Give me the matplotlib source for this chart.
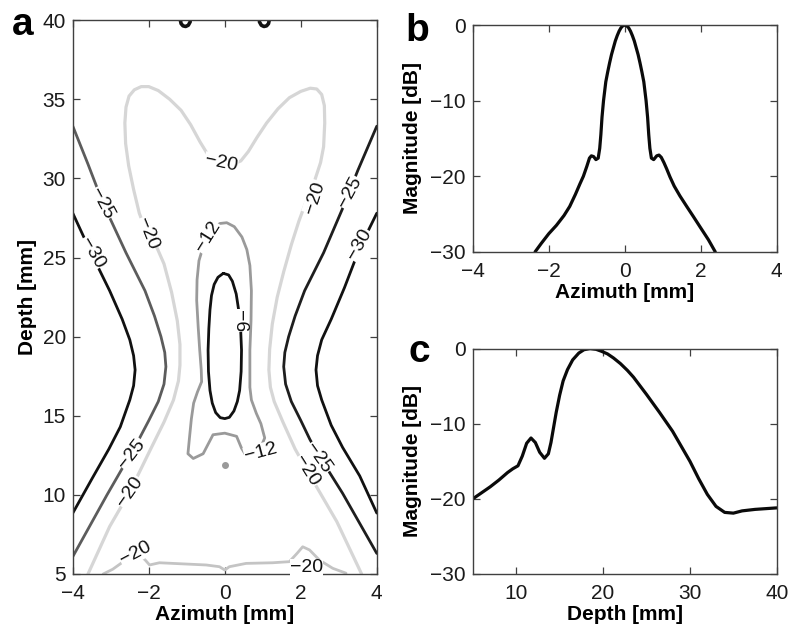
import matplotlib
matplotlib.use('Agg')
import matplotlib.pyplot as plt

plt.rcParams['font.family'] = ['Liberation Sans', 'DejaVu Sans']

# ---------------- Panel a: contour lines (azimuth [mm], depth [mm]) ----------------
c30_left_x = [-4.0, -3.5, -3.03, -2.7, -2.5, -2.4, -2.36, -2.4, -2.5, -2.75, -3.05, -3.5, -4.0]
c30_left_y = [27.8, 25.2, 22.9, 21.1, 19.8, 18.8, 17.9, 16.9, 16.0, 14.3, 12.9, 11.0, 8.85]
c30_right_x = [4.0, 3.55, 3.15, 2.8, 2.55, 2.44, 2.4, 2.44, 2.55, 2.8, 3.1, 3.55, 4.0]
c30_right_y = [27.8, 25.6, 23.1, 21.1, 19.8, 18.8, 17.9, 16.9, 16.0, 14.4, 13.0, 11.2, 8.85]

c25_left_x = [-4.0, -3.6, -3.2, -2.6, -2.1, -1.85, -1.68, -1.58, -1.55, -1.6, -1.75, -2.0, -2.24, -2.5, -3.1, -4.0]
c25_left_y = [33.3, 30.9, 28.4, 25.3, 22.9, 21.3, 20.0, 19.0, 18.1, 17.0, 15.9, 14.7, 13.6, 12.5, 10.0, 6.1]
c25_right_x = [4.0, 3.5, 3.1, 2.6, 2.1, 1.85, 1.68, 1.58, 1.55, 1.6, 1.75, 2.0, 2.24, 2.5, 3.1, 4.0]
c25_right_y = [33.3, 30.5, 28.1, 25.3, 22.9, 21.3, 20.0, 19.0, 18.1, 17.0, 15.9, 14.7, 13.5, 12.4, 10.1, 6.3]

c20_x = [-3.6, -3.03, -2.5, -1.95, -1.6, -1.35, -1.22, -1.18, -1.18, -1.25, -1.4, -1.6, -1.8,
         -2.05, -2.25, -2.4, -2.53, -2.61, -2.63, -2.6, -2.52, -2.38, -2.2, -2.0, -1.75, -1.45,
         -1.15, -0.9, -0.65, -0.42, -0.2, 0.0, 0.2, 0.42, 0.62, 0.85, 1.1, 1.4, 1.7, 2.0,
         2.25, 2.42, 2.55, 2.62, 2.63, 2.6, 2.52, 2.37, 2.15, 1.95, 1.75, 1.55, 1.38, 1.25,
         1.18, 1.16, 1.2, 1.3, 1.53, 1.85, 2.2, 2.95, 3.6]
c20_y = [5.0, 8.0, 10.2, 12.9, 14.6, 16.0, 17.2, 18.2, 19.5, 21.0, 22.8, 24.6, 25.7,
         26.5, 27.8, 29.3, 30.8, 32.2, 33.5, 34.5, 35.2, 35.6, 35.8, 35.8, 35.55, 35.0,
         34.3, 33.4, 32.3, 31.4, 30.95, 30.85, 30.9, 31.1, 31.7, 32.6, 33.5, 34.4, 35.1, 35.5,
         35.7, 35.65, 35.3, 34.6, 33.5, 32.0, 31.0, 29.9, 28.6, 27.3, 25.8, 24.1, 22.5, 20.8,
         19.2, 17.9, 16.8, 15.9, 14.6, 12.9, 11.4, 8.3, 5.0]

c20_bottom_x = [-3.2, -2.95, -2.6, -2.3, -2.1, -1.98, -1.72, -1.37, -0.49, -0.14, 0.0, 0.12,
                0.56, 1.26, 1.7, 1.9, 2.05, 2.23, 2.49, 2.84, 3.19]
c20_bottom_y = [5.0, 5.3, 5.9, 6.3, 5.9, 5.57, 5.71, 5.67, 5.57, 5.46, 5.25, 5.46,
                5.67, 5.71, 5.78, 6.3, 6.72, 6.52, 5.88, 5.36, 5.05]

c12_x = [-0.3, -0.44, -0.58, -0.68, -0.73, -0.74, -0.7, -0.66, -0.62, -0.61, -0.72, -0.82,
         -0.88, -0.93, -0.97, -0.83, -0.57, -0.31, 0.0, 0.31, 0.44, 0.53, 0.88, 1.05, 0.95,
         0.83, 0.7, 0.66, 0.66, 0.69, 0.70, 0.66, 0.58, 0.45, 0.25, 0.05, -0.13, -0.3]
c12_y = [26.85, 26.3, 25.6, 24.8, 23.6, 22.3, 20.6, 19.15, 17.9, 17.15, 16.5, 15.8,
         14.8, 13.6, 12.6, 12.3, 12.6, 13.8, 13.9, 13.7, 12.95, 12.6, 12.6, 13.6, 14.5,
         15.15, 16.0, 16.8, 19.15, 21.0, 22.9, 24.5, 25.5, 26.3, 26.95, 27.2, 27.15, 26.85]

c6_x = [-0.04, -0.18, -0.28, -0.35, -0.39, -0.42, -0.44, -0.43, -0.39, -0.33, -0.24, -0.12, 0.0,
        0.12, 0.24, 0.33, 0.39, 0.43, 0.44, 0.42, 0.37, 0.3, 0.2, 0.1, -0.04]
c6_y = [24.0, 23.75, 23.3, 22.6, 21.7, 20.5, 19.15, 17.8, 16.6, 15.8, 15.2, 14.88, 14.82,
        14.9, 15.3, 15.9, 16.6, 17.8, 19.15, 20.3, 21.6, 22.7, 23.5, 23.9, 24.0]

c_top_left_x = [-1.17, -1.15, -1.1, -1.03, -0.96, -0.91]
c_top_left_y = [40.0, 39.78, 39.64, 39.6, 39.68, 39.9]
c_top_right_x = [0.91, 0.96, 1.03, 1.1, 1.15, 1.17]
c_top_right_y = [39.9, 39.68, 39.6, 39.64, 39.78, 40.0]

dot_x = [0.0]
dot_y = [11.9]

label_text = ['−20', '−25', '−30', '−20', '−12', '−6', '−20', '−25', '−30',
              '−25', '−20', '−12', '−25', '−20', '−20', '−20']
label_x = [-0.1, -3.25, -3.5, -2.05, -0.45, 0.39, 2.37, 3.3, 3.55,
           -2.45, -2.5, 0.95, 2.45, 2.15, -2.35, 2.15]
label_y = [30.95, 28.4, 25.3, 26.5, 26.3, 21.0, 28.8, 29.1, 25.8,
           12.6, 10.2, 12.7, 12.3, 11.5, 6.3, 5.4]
label_rot = [-12, -62, -60, -68, 58, -90, 72, 62, 60,
             52, 55, 15, -55, -58, 28, 0]

# ---------------- Panel b: lateral profile ----------------
b_azimuth = [-2.36, -2.2, -2.0, -1.8, -1.6, -1.45, -1.3, -1.18, -1.09, -1.0, -0.93, -0.88,
             -0.82, -0.76, -0.7, -0.66, -0.63, -0.6, -0.56, -0.5, -0.45, -0.4, -0.35, -0.3,
             -0.25, -0.2, -0.15, -0.1, -0.05, 0.0, 0.05, 0.1, 0.15, 0.2, 0.25, 0.3, 0.35, 0.4,
             0.45, 0.5, 0.56, 0.6, 0.63, 0.66, 0.7, 0.76, 0.84, 0.9, 0.96, 1.03, 1.1, 1.19,
             1.3, 1.45, 1.63, 1.8, 1.98, 2.2, 2.38]
b_mag = [-30.0, -28.9, -27.6, -26.5, -25.2, -24.0, -22.4, -21.0, -20.0, -18.7, -17.6, -17.3,
         -17.4, -17.8, -17.6, -16.3, -14.5, -12.2, -10.0, -7.5, -6.2, -5.0, -3.9, -3.0,
         -2.1, -1.4, -0.8, -0.35, -0.08, 0.0, -0.08, -0.35, -0.8, -1.4, -2.1, -3.0, -3.9, -5.0,
         -6.2, -7.5, -10.0, -12.2, -14.5, -16.3, -17.6, -17.8, -17.3, -17.2, -17.5, -18.2, -19.0, -20.1,
         -21.3, -22.6, -24.0, -25.3, -26.7, -28.4, -30.0]

# ---------------- Panel c: axial profile ----------------
c_depth = [5, 6, 7, 8, 9, 9.6, 10.2, 10.7, 11.2, 11.7, 12.2, 12.7, 13.25, 13.7, 14.0, 14.3,
           14.6, 15.0, 15.4, 15.9, 16.5, 17.2, 17.8, 18.5, 19.2, 19.8, 20.5, 21.2, 22, 22.8,
           23.5, 25, 26.5, 28, 29, 30, 31, 32, 33, 34, 35, 36, 37.5, 40]
c_mag = [-20.0, -19.2, -18.4, -17.5, -16.5, -16.0, -15.6, -14.3, -12.6, -11.9, -12.5, -13.8,
         -14.6, -14.0, -12.5, -10.5, -8.5, -6.2, -4.3, -2.8, -1.5, -0.6, -0.15, 0.0, -0.1,
         -0.35, -0.7, -1.25, -2.0, -2.9, -3.8, -6.1, -8.5, -11.0, -13.0, -15.0, -17.3, -19.4,
         -21.0, -21.8, -21.9, -21.6, -21.4, -21.2]

a_xticks = [-4, -2, 0, 2, 4]
a_yticks = [5, 10, 15, 20, 25, 30, 35, 40]
b_xticks = [-4, -2, 0, 2, 4]
mag_ticks = [-30, -20, -10, 0]
c_xticks = [10, 20, 30, 40]

fig = plt.figure(figsize=(8.0, 6.44), dpi=100)
ax_a = fig.add_axes([0.091, 0.1087, 0.380, 0.860])
ax_b = fig.add_axes([0.591, 0.609, 0.380, 0.352])
ax_c = fig.add_axes([0.591, 0.1087, 0.380, 0.350])

TICK_FS = 15
LAB_FS = 15
spine_col = '#404040'


def style(ax):
    for s in ax.spines.values():
        s.set_color(spine_col)
        s.set_linewidth(1.0)
    ax.tick_params(direction='in', length=5, width=0.9, color=spine_col,
                   top=True, right=True, labelsize=TICK_FS, labelcolor='#1a1a1a', pad=5)
    ax.tick_params(axis='x', pad=7.5)


# Panel a
lw = 2.0
kw = dict(solid_joinstyle='round', solid_capstyle='round')
ax_a.plot(c20_x, c20_y, color='#d6d6d6', lw=2.3, **kw)
ax_a.plot(c20_bottom_x, c20_bottom_y, color='#c4c4c4', lw=2.0, **kw)
ax_a.plot(c30_left_x, c30_left_y, color='#111111', lw=lw, **kw)
ax_a.plot(c30_right_x, c30_right_y, color='#111111', lw=lw, **kw)
ax_a.plot(c25_left_x, c25_left_y, color='#5c5c5c', lw=lw, **kw)
ax_a.plot(c25_right_x, c25_right_y, color='#1e1e1e', lw=lw, **kw)
ax_a.plot(c12_x, c12_y, color='#9a9a9a', lw=lw, **kw)
ax_a.plot(c6_x, c6_y, color='#111111', lw=lw, **kw)
ax_a.plot(c_top_left_x, c_top_left_y, color='#111111', lw=2.6, **kw)
ax_a.plot(c_top_right_x, c_top_right_y, color='#111111', lw=2.6, **kw)
ax_a.plot(dot_x, dot_y, 'o', color='#9a9a9a', ms=4)

for t, x, y, r in zip(label_text, label_x, label_y, label_rot):
    ax_a.text(x, y, t, rotation=r, rotation_mode='anchor', ha='center', va='center',
              fontsize=14, color='#111111',
              bbox=dict(facecolor='white', edgecolor='none', pad=0.3))

ax_a.set_xlim(-4, 4)
ax_a.set_ylim(5, 40)
ax_a.set_xticks(a_xticks)
ax_a.set_yticks(a_yticks)
style(ax_a)
ax_a.set_xlabel('Azimuth [mm]', fontsize=LAB_FS, fontweight='bold', labelpad=1)
ax_a.set_ylabel('Depth [mm]', fontsize=LAB_FS, fontweight='bold', labelpad=4)

# Panel b
ax_b.plot(b_azimuth, b_mag, color='#0a0a0a', lw=2.3, **kw)
ax_b.set_xlim(-4, 4)
ax_b.set_ylim(-30, 0)
ax_b.set_xticks(b_xticks)
ax_b.set_yticks(mag_ticks)
style(ax_b)
ax_b.set_xlabel('Azimuth [mm]', fontsize=LAB_FS, fontweight='bold', labelpad=1)
ax_b.set_ylabel('Magnitude [dB]', fontsize=LAB_FS, fontweight='bold', labelpad=6)

# Panel c
ax_c.plot(c_depth, c_mag, color='#0a0a0a', lw=2.3, **kw)
ax_c.set_xlim(5, 40)
ax_c.set_ylim(-30, 0)
ax_c.set_xticks(c_xticks)
ax_c.set_yticks(mag_ticks)
style(ax_c)
ax_c.set_xlabel('Depth [mm]', fontsize=LAB_FS, fontweight='bold', labelpad=1)
ax_c.set_ylabel('Magnitude [dB]', fontsize=LAB_FS, fontweight='bold', labelpad=6)

# panel letters
fig.text(12 / 800, 1 - 35 / 644, 'a', fontsize=28, fontweight='bold', ha='left', va='baseline')
fig.text(405 / 800, 1 - 41 / 644, 'b', fontsize=28, fontweight='bold', ha='left', va='baseline')
fig.text(409 / 800, 1 - 362 / 644, 'c', fontsize=28, fontweight='bold', ha='left', va='baseline')

fig.savefig('out.png', dpi=100, facecolor='white')
